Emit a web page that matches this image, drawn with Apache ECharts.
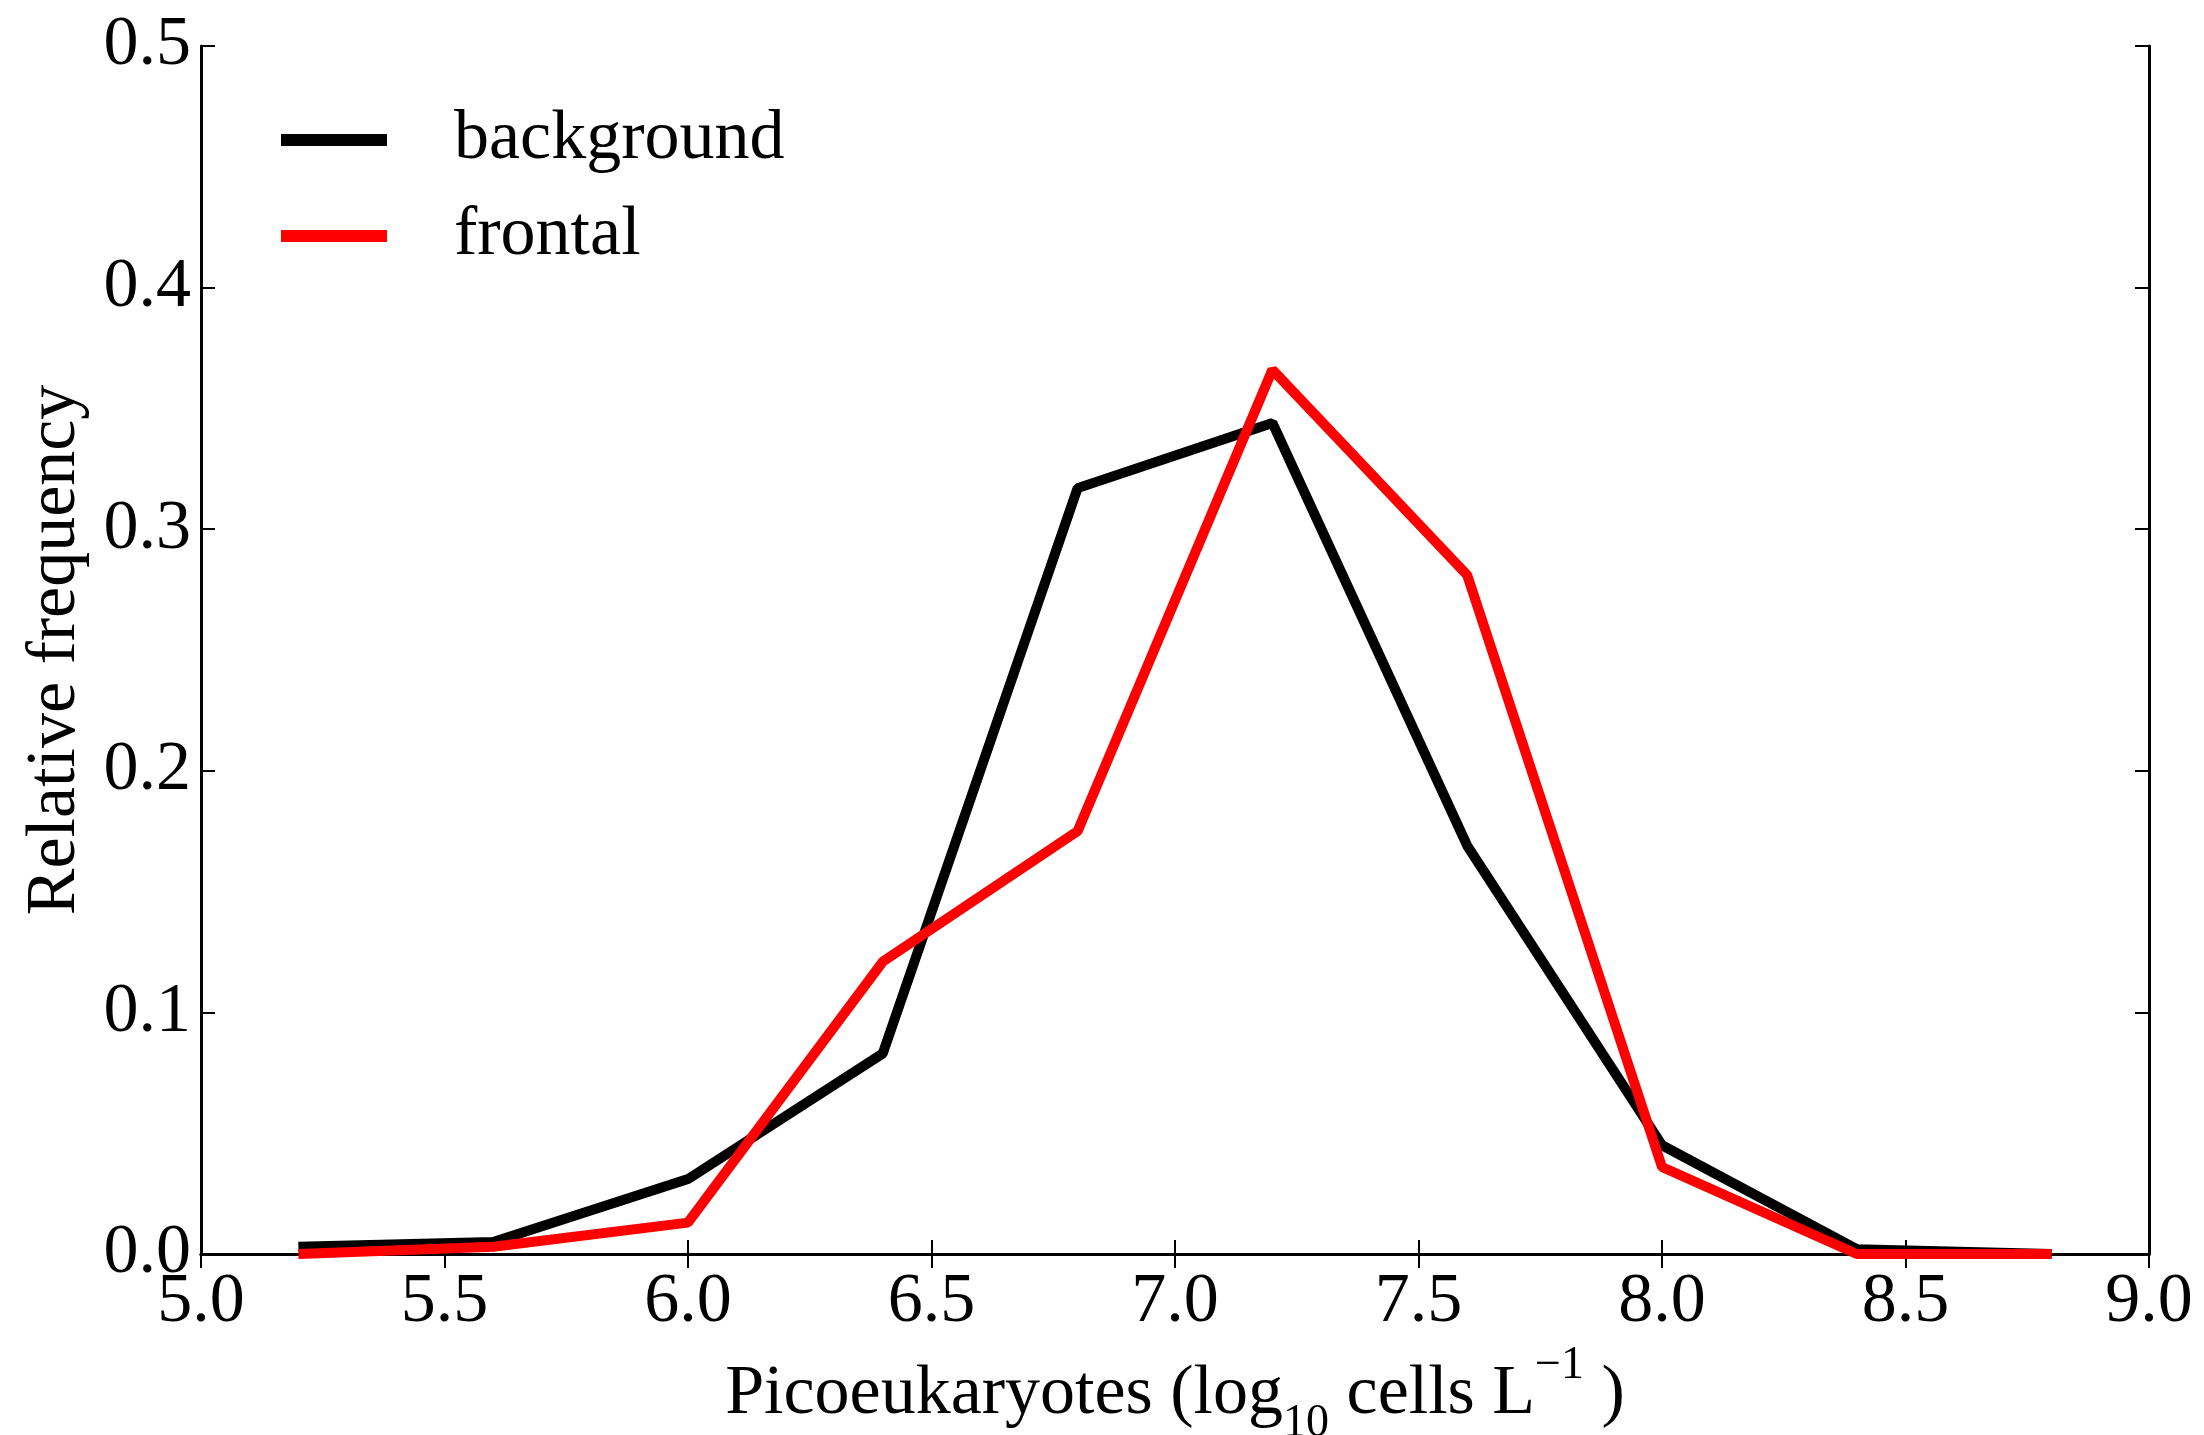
<!DOCTYPE html>
<html>
<head>
<meta charset="utf-8">
<script src="https://cdn.jsdelivr.net/npm/echarts@6/dist/echarts.min.js"></script>
<style>
  html, body { margin: 0; padding: 0; background: #fff; }
  #chart { width: 2204px; height: 1435px; }
</style>
</head>
<body>
<div id="chart"></div>
<script>
"use strict";
var binCenters = [5.2, 5.6, 6.0, 6.4, 6.8, 7.2, 7.6, 8.0, 8.4, 8.8];
var background = [0.003, 0.005, 0.031, 0.083, 0.317, 0.344, 0.169, 0.045, 0.002, 0.0];
var frontal    = [0.0, 0.003, 0.013, 0.121, 0.175, 0.366, 0.281, 0.036, 0.0, 0.0];
var seriesNames = ["background", "frontal"];

var font = "Liberation Serif";

function pairs(ys) {
    return binCenters.map(function (x, i) { return [x, ys[i]]; });
}

var tickStyle = { show: true, inside: true, length: 14, lineStyle: { color: "#000", width: 2 } };
var lineStyle = { show: true, lineStyle: { color: "#000", width: 3 } };

var chart = echarts.init(document.getElementById("chart"), null, { renderer: "canvas" });
chart.setOption({
    backgroundColor: "#fff",
    animation: false,
    textStyle: { fontFamily: font },
    grid: { left: 201, right: 55, top: 46, bottom: 181, outerBoundsMode: "none", containLabel: false },
    legend: {
        orient: "vertical",
        left: 276,
        top: 100,
        itemWidth: 106,
        itemHeight: 12,
        itemGap: 26,
        icon: "rect",
        data: seriesNames,
        textStyle: { fontFamily: font, fontSize: 70, color: "#000", padding: [0, 0, 0, 62] }
    },
    xAxis: [{
        type: "value",
        min: 5.0,
        max: 9.0,
        interval: 0.5,
        axisLine: lineStyle,
        axisTick: tickStyle,
        splitLine: { show: false },
        axisLabel: {
            margin: 14,
            fontFamily: font,
            fontSize: 70,
            color: "#000",
            formatter: function (v) { return v.toFixed(1); }
        },
        name: "{a|Picoeukaryotes (log}{sub|10}{a| cells L}{sup|\u22121}{a| )}",
        nameLocation: "middle",
        nameGap: 54,
        nameTextStyle: {
            rich: {
                a: { fontFamily: font, fontSize: 70, color: "#000", lineHeight: 104, verticalAlign: "middle" },
                sub: { fontFamily: font, fontSize: 46, color: "#000", lineHeight: 46, verticalAlign: "bottom" },
                sup: { fontFamily: font, fontSize: 46, color: "#000", lineHeight: 46, verticalAlign: "top" }
            }
        }
    }, {
        type: "value",
        position: "top",
        min: 5.0,
        max: 9.0,
        interval: 0.5,
        axisLine: lineStyle,
        axisTick: tickStyle,
        axisLabel: { show: false },
        splitLine: { show: false }
    }],
    yAxis: [{
        type: "value",
        min: 0,
        max: 0.5,
        interval: 0.1,
        axisLine: lineStyle,
        axisTick: tickStyle,
        splitLine: { show: false },
        axisLabel: {
            margin: 10,
            fontFamily: font,
            fontSize: 70,
            color: "#000",
            formatter: function (v) { return v.toFixed(1); }
        },
        name: "Relative frequency",
        nameLocation: "middle",
        nameGap: 110,
        nameTextStyle: { fontFamily: font, fontSize: 70, color: "#000" }
    }, {
        type: "value",
        position: "right",
        min: 0,
        max: 0.5,
        interval: 0.1,
        axisLine: lineStyle,
        axisTick: tickStyle,
        axisLabel: { show: false },
        splitLine: { show: false }
    }],
    series: [{
        name: seriesNames[0],
        type: "line",
        data: pairs(background),
        symbol: "none",
        color: "#000000",
        lineStyle: { width: 10, color: "#000000" }
    }, {
        name: seriesNames[1],
        type: "line",
        data: pairs(frontal),
        symbol: "none",
        color: "#ff0000",
        lineStyle: { width: 10, color: "#ff0000" }
    }]
});
</script>
</body>
</html>
